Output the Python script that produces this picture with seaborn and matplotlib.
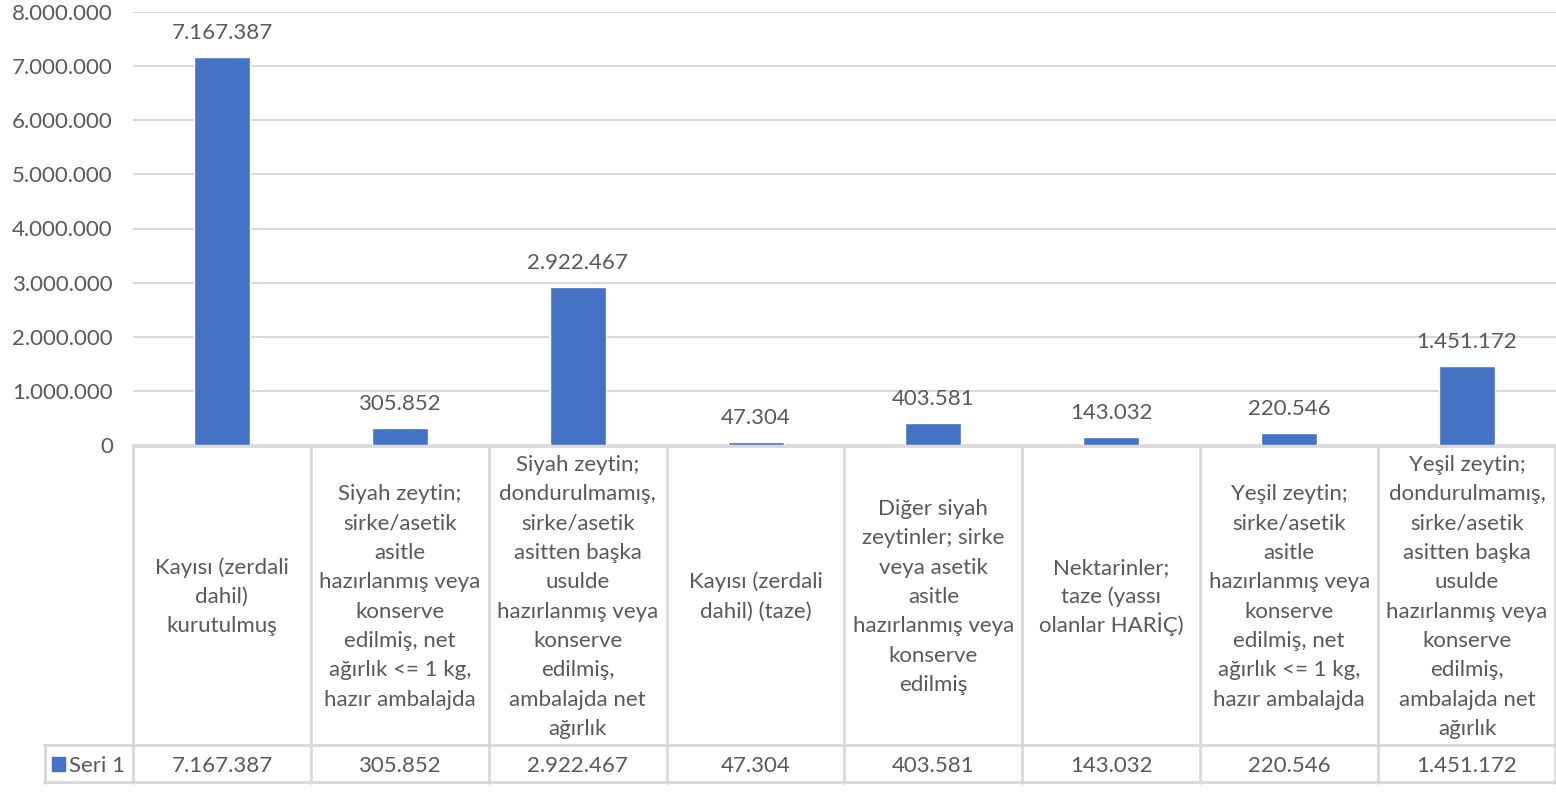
import numpy as np
import pandas as pd
import matplotlib
matplotlib.use("Agg")
from matplotlib import pyplot as plt
from matplotlib.ticker import FuncFormatter
import seaborn as sns

CATEGORIES = [
    "Kayısı (zerdali\ndahil)\nkurutulmuş",
    "Siyah zeytin;\nsirke/asetik\nasitle\nhazırlanmış veya\nkonserve\nedilmiş, net\nağırlık <= 1 kg,\nhazır ambalajda",
    "Siyah zeytin;\ndondurulmamış,\nsirke/asetik\nasitten başka\nusulde\nhazırlanmış veya\nkonserve\nedilmiş,\nambalajda net\nağırlık",
    "Kayısı (zerdali\ndahil) (taze)",
    "Diğer siyah\nzeytinler; sirke\nveya asetik\nasitle\nhazırlanmış veya\nkonserve\nedilmiş",
    "Nektarinler;\ntaze (yassı\nolanlar HARİÇ)",
    "Yeşil zeytin;\nsirke/asetik\nasitle\nhazırlanmış veya\nkonserve\nedilmiş, net\nağırlık <= 1 kg,\nhazır ambalajda",
    "Yeşil zeytin;\ndondurulmamış,\nsirke/asetik\nasitten başka\nusulde\nhazırlanmış veya\nkonserve\nedilmiş,\nambalajda net\nağırlık",
]
VALUES = [7167387, 305852, 2922467, 47304, 403581, 143032, 220546, 1451172]
SERIES_NAME = "Seri 1"
Y_TICKS = [0, 1000000, 2000000, 3000000, 4000000, 5000000, 6000000, 7000000, 8000000]

BLUE = "#4472C4"
TXT = "#595959"
GRID = "#d9d9d9"
FS = 16


def tr_fmt(v):
    return "{:,.0f}".format(v).replace(",", ".")


sns.set_style("white")
plt.rcParams["font.family"] = ["Lato", "DejaVu Sans"]

W, H = 1556, 796
fig = plt.figure(figsize=(W / 100, H / 100), dpi=100)

# bar chart area (pixel layout of the reference)
x0, x1 = 133, 1556
y_top, y_zero = 12, 445
ax = fig.add_axes([x0 / W, (H - y_zero) / H, (x1 - x0) / W, (y_zero - y_top) / H])
df = pd.DataFrame({"cat": range(len(VALUES)), "val": VALUES})
sns.barplot(data=df, x="cat", y="val", color=BLUE, width=0.315, saturation=1, ax=ax)
ax.set_xlim(-0.5, len(VALUES) - 0.5)
ax.set_ylim(0, 8000000)
ax.set_yticks(Y_TICKS)
ax.yaxis.set_major_formatter(FuncFormatter(lambda v, p: tr_fmt(v)))
ax.tick_params(axis="y", length=0, pad=14.5, labelsize=FS, labelcolor=TXT)
ax.set_xticks([])
ax.set_xlabel("")
ax.set_ylabel("")
for s in ax.spines.values():
    s.set_visible(False)
ax.grid(axis="y", color=GRID, linewidth=1.5)
ax.set_axisbelow(True)
for i, v in enumerate(VALUES):
    ax.annotate(tr_fmt(v), (i, v), xytext=(0, 17.5), textcoords="offset points",
                ha="center", va="center", fontsize=FS, color=TXT)

# data table below the chart
t_left, t_bot = 44, 783
tab = fig.add_axes([t_left / W, (H - t_bot) / H, (x1 - t_left) / W, (t_bot - y_zero) / H])
tab.set_xlim(-1.0, len(VALUES) - 0.5)
tab.set_ylim(t_bot, y_zero)  # pixel rows, top down
tab.axis("off")
row_split = 745
lw = 2
n = len(VALUES)
# horizontal lines
tab.plot([-0.5, n - 0.5], [y_zero + 1, y_zero + 1], color=GRID, lw=lw, clip_on=False)
tab.plot([-1.0, n - 0.5], [row_split, row_split], color=GRID, lw=lw, clip_on=False)
tab.plot([-1.0, n - 0.5], [t_bot - 1, t_bot - 1], color=GRID, lw=lw, clip_on=False)
# vertical lines
for k in range(n + 1):
    xb = k - 0.5
    if k == n:
        xb = n - 0.5 - 0.004
    tab.plot([xb, xb], [y_zero, t_bot], color=GRID, lw=lw, clip_on=False)
tab.plot([-1.0 + 0.003, -1.0 + 0.003], [row_split, t_bot], color=GRID, lw=lw, clip_on=False)

# wrapped category text, fixed line pitch
pitch = 29.3
cell_mid = (y_zero + row_split) / 2
for i, (c, v) in enumerate(zip(CATEGORIES, VALUES)):
    lines = c.split("\n")
    m = len(lines)
    for j, line in enumerate(lines):
        yc = cell_mid + (j - (m - 1) / 2) * pitch
        tab.text(i, yc + 8, line, ha="center", va="baseline", fontsize=FS, color=TXT)
    tab.text(i, (row_split + t_bot) / 2 + 8, tr_fmt(v), ha="center", va="baseline",
             fontsize=FS, color=TXT)

# legend key in the table
tab.add_patch(plt.Rectangle((-0.955, 757), 0.075, 14, color=BLUE, clip_on=False))
tab.text(-0.86, (row_split + t_bot) / 2 + 8, SERIES_NAME, ha="left", va="baseline",
         fontsize=FS, color=TXT)

fig.savefig("out.png", dpi=100)
